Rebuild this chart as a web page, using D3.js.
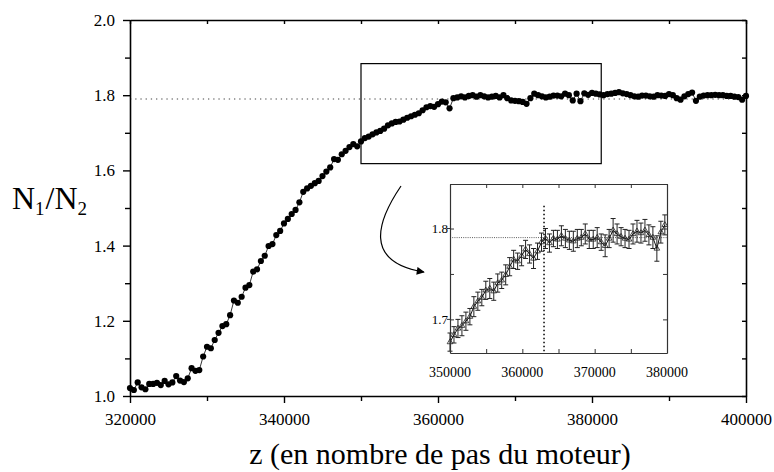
<!DOCTYPE html>
<html><head><meta charset="utf-8">
<script src="https://cdn.jsdelivr.net/npm/d3@7/dist/d3.min.js"></script>
<style>body{margin:0;background:#fff}svg{display:block}</style>
</head><body><svg id="c" width="774" height="472"></svg>
<script>
// ---- Data ----
const mainStart = 320000, mainStep = 500;
const mainValues = [
1.021,1.016,1.036,1.023,1.018,1.032,1.032,1.035,1.029,1.040,
1.031,1.036,1.053,1.041,1.037,1.047,1.074,1.067,1.069,1.105,
1.131,1.127,1.149,1.168,1.186,1.191,1.215,1.254,1.248,1.264,
1.288,1.295,1.331,1.337,1.359,1.373,1.399,1.404,1.428,1.439,
1.459,1.471,1.484,1.495,1.515,1.543,1.552,1.559,1.566,1.572,
1.585,1.597,1.608,1.630,1.628,1.643,1.652,1.662,1.670,1.664,
1.677,1.686,1.690,1.696,1.701,1.705,1.711,1.720,1.725,1.729,
1.730,1.735,1.740,1.744,1.748,1.752,1.760,1.768,1.771,1.769,
1.776,1.783,1.781,1.765,1.792,1.794,1.797,1.794,1.798,1.800,
1.796,1.800,1.797,1.794,1.796,1.798,1.794,1.800,1.792,1.786,
1.785,1.784,1.782,1.777,1.792,1.804,1.800,1.797,1.794,1.796,
1.799,1.799,1.797,1.804,1.800,1.786,1.804,1.784,1.805,1.801,
1.806,1.804,1.802,1.800,1.803,1.804,1.806,1.808,1.805,1.803,
1.800,1.797,1.796,1.799,1.799,1.797,1.796,1.800,1.799,1.798,
1.803,1.800,1.792,1.788,1.797,1.803,1.807,1.785,1.796,1.799,
1.800,1.800,1.801,1.800,1.800,1.798,1.798,1.796,1.795,1.788,
1.798];
const insetStart = 350000, insetStep = 550;
const insetValues = [
1.675,1.683,1.690,1.693,1.698,1.703,1.714,1.720,1.724,1.732,
1.734,1.731,1.740,1.743,1.749,1.758,1.766,1.764,1.770,1.777,
1.772,1.767,1.775,1.785,1.789,1.784,1.789,1.788,1.792,1.789,
1.787,1.786,1.789,1.790,1.794,1.788,1.788,1.790,1.785,1.781,
1.789,1.798,1.794,1.791,1.789,1.788,1.794,1.797,1.795,1.798,
1.793,1.790,1.778,1.796,1.804];
const insetErrors = [
0.010,0.009,0.010,0.011,0.010,0.009,0.011,0.010,0.009,0.010,
0.011,0.010,0.010,0.009,0.011,0.010,0.010,0.009,0.011,0.010,
0.010,0.011,0.009,0.010,0.011,0.010,0.009,0.010,0.011,0.010,
0.010,0.011,0.010,0.009,0.011,0.010,0.010,0.011,0.009,0.012,
0.010,0.013,0.011,0.010,0.010,0.010,0.011,0.012,0.011,0.012,
0.011,0.012,0.014,0.012,0.011];
const plateau = 1.79;
const verticalMark = 363000;
const zoomBox = {x0:350000, x1:381200, y0:1.618, y1:1.884};
const mainXTicks = [320000,340000,360000,380000,400000];
const mainYTicks = [1.0,1.2,1.4,1.6,1.8,2.0];
const insetXTicks = [350000,360000,370000,380000];
const insetYTicks = [1.7,1.8];

const FONT = '"Liberation Serif", Tinos, "Times New Roman", Times, "DejaVu Serif", "Noto Serif", serif';
const mainData = mainValues.map((v,i)=>({x:mainStart+i*mainStep,y:v}));
const insetData = insetValues.map((v,i)=>({x:insetStart+i*insetStep,y:v,e:insetErrors[i]}));

const svg = d3.select("#c").style("font-family",FONT);
// ---- Main chart ----
const x = d3.scaleLinear().domain([320000,400000]).range([130,746]);
const y = d3.scaleLinear().domain([1,2]).range([396,20]);

const minorX = d3.range(320000,400001,10000);
const minorY = d3.range(10,21).map(d=>d/10);

svg.append("line").attr("x1",x(320000)).attr("x2",x(400000)).attr("y1",y(plateau)).attr("y2",y(plateau))
  .attr("stroke","#444").attr("stroke-width",1.1).attr("stroke-dasharray","1.3,3.9");

const gB = svg.append("g").attr("transform",`translate(0,${y(1)})`)
  .call(d3.axisBottom(x).tickValues(minorX).tickSizeInner(7).tickSizeOuter(0).tickFormat(d=>mainXTicks.includes(d)?d:""));
const gL = svg.append("g").attr("transform",`translate(${x(320000)},0)`)
  .call(d3.axisLeft(y).tickValues(minorY).tickSizeInner(7).tickSizeOuter(0).tickFormat(d=>mainYTicks.some(t=>Math.abs(t-d)<1e-9)?d3.format(".1f")(d):""));
const gT = svg.append("g").attr("transform",`translate(0,${y(2)})`)
  .call(d3.axisBottom(x).tickValues(minorX).tickSizeInner(4).tickSizeOuter(0).tickFormat(""));
const gR = svg.append("g").attr("transform",`translate(${x(400000)},0)`)
  .call(d3.axisLeft(y).tickValues(minorY).tickSizeInner(4).tickSizeOuter(0).tickFormat(""));
[gB,gL,gT,gR].forEach(g=>{g.attr("font-family",FONT);g.select(".domain").attr("stroke","#000").attr("stroke-width",1.6);g.selectAll(".tick line").attr("stroke","#000").attr("stroke-width",1.4);});
gB.selectAll(".tick").filter(d=>!mainXTicks.includes(d)).select("line").attr("y2",5);
gL.selectAll(".tick").filter(d=>!mainYTicks.some(t=>Math.abs(t-d)<1e-9)).select("line").attr("x2",-5);
gB.selectAll(".tick text").attr("font-size",17).attr("dy","1.1em");
gL.selectAll(".tick text").attr("font-size",17).attr("dx","-0.3em");

svg.append("path").datum(mainData).attr("fill","none").attr("stroke","#000").attr("stroke-width",0.8)
  .attr("d",d3.line().x(d=>x(d.x)).y(d=>y(d.y)));
svg.append("g").selectAll("circle").data(mainData).join("circle")
  .attr("cx",d=>x(d.x)).attr("cy",d=>y(d.y)).attr("r",3.1).attr("fill","#000");

svg.append("rect").attr("x",x(zoomBox.x0)).attr("y",y(zoomBox.y1))
  .attr("width",x(zoomBox.x1)-x(zoomBox.x0)).attr("height",y(zoomBox.y0)-y(zoomBox.y1))
  .attr("fill","none").attr("stroke","#000").attr("stroke-width",1.2);

const defs = svg.append("defs");
defs.append("marker").attr("id","ah").attr("viewBox","0 0 10 10").attr("refX",9).attr("refY",5)
  .attr("markerWidth",12).attr("markerHeight",8).attr("markerUnits","userSpaceOnUse").attr("orient","auto")
  .append("path").attr("d","M0,0 L10,5 L0,10 z").attr("fill","#000");
svg.append("path").attr("d","M401,186 C378,220 362,262 424,272").attr("fill","none")
  .attr("stroke","#000").attr("stroke-width",1.2).attr("marker-end","url(#ah)");

svg.append("text").attr("x",440).attr("y",464).attr("text-anchor","middle").attr("font-size",30)
  .attr("font-family",FONT).text("z (en nombre de pas du moteur)");
const yl = svg.append("text").attr("x",12).attr("y",209).attr("font-size",32).attr("font-family",FONT);
yl.append("tspan").text("N");
yl.append("tspan").attr("font-size",19).attr("dy",6).text("1");
yl.append("tspan").attr("dy",-6).attr("dx",1).text("/N");
yl.append("tspan").attr("font-size",19).attr("dy",6).text("2");

// ---- Inset ----
const ix = d3.scaleLinear().domain([350000,380000]).range([450,667]);
const iy = d3.scaleLinear().domain([1.663,1.849]).range([353,184]);
const ig = svg.append("g").attr("font-family",FONT);
ig.append("rect").attr("x",450).attr("y",184).attr("width",217).attr("height",169).attr("fill","#fff");
const iMinorX = d3.range(350000,380001,5000);
const iMinorY = [1.7,1.75,1.8];
ig.append("line").attr("x1",ix(350000)).attr("x2",ix(380000)).attr("y1",iy(plateau)).attr("y2",iy(plateau))
  .attr("stroke","#333").attr("stroke-width",0.8).attr("stroke-dasharray","1,1.2");
ig.append("line").attr("x1",ix(verticalMark)).attr("x2",ix(verticalMark)).attr("y1",iy(1.825)).attr("y2",iy(1.664))
  .attr("stroke","#000").attr("stroke-width",1.5).attr("stroke-dasharray","1.5,2.5");
const eb = ig.append("g").attr("stroke","#222").attr("stroke-width",1);
insetData.forEach(d=>{
  const cx = ix(d.x);
  eb.append("line").attr("x1",cx).attr("x2",cx).attr("y1",iy(d.y-d.e)).attr("y2",iy(d.y+d.e));
  eb.append("line").attr("x1",cx-2.5).attr("x2",cx+2.5).attr("y1",iy(d.y-d.e)).attr("y2",iy(d.y-d.e));
  eb.append("line").attr("x1",cx-2.5).attr("x2",cx+2.5).attr("y1",iy(d.y+d.e)).attr("y2",iy(d.y+d.e));
});
ig.append("path").datum(insetData).attr("fill","none").attr("stroke","#111").attr("stroke-width",1)
  .attr("d",d3.line().x(d=>ix(d.x)).y(d=>iy(d.y)));
ig.append("g").selectAll("path").data(insetData).join("path")
  .attr("transform",d=>`translate(${ix(d.x)},${iy(d.y)})`)
  .attr("d",d3.symbol(d3.symbolTriangle,14)).attr("fill","none").attr("stroke","#222").attr("stroke-width",0.8);
const iB = ig.append("g").attr("transform",`translate(0,353)`)
  .call(d3.axisTop(ix).tickValues(iMinorX).tickSizeInner(4).tickSizeOuter(0).tickFormat(""));
const iT = ig.append("g").attr("transform",`translate(0,184)`)
  .call(d3.axisBottom(ix).tickValues(iMinorX).tickSizeInner(4).tickSizeOuter(0).tickFormat(""));
const iL = ig.append("g").attr("transform",`translate(450,0)`)
  .call(d3.axisRight(iy).tickValues(iMinorY).tickSizeInner(4).tickSizeOuter(0).tickFormat(""));
const iR = ig.append("g").attr("transform",`translate(667,0)`)
  .call(d3.axisLeft(iy).tickValues(iMinorY).tickSizeInner(4).tickSizeOuter(0).tickFormat(""));
[iB,iT,iL,iR].forEach(g=>{g.select(".domain").attr("stroke","#333").attr("stroke-width",1.2);g.selectAll(".tick line").attr("stroke","#333");});
ig.append("g").selectAll("text").data(insetXTicks).join("text")
  .attr("x",d=>ix(d)).attr("y",377).attr("text-anchor","middle").attr("font-size",14).attr("font-family",FONT).text(d=>d);
ig.append("g").selectAll("text").data(insetYTicks).join("text")
  .attr("x",448).attr("y",d=>iy(d)+4.5).attr("text-anchor","end").attr("font-size",13).attr("font-family",FONT).text(d=>d.toFixed(1));
ig.append("g").selectAll("line").data(insetYTicks).join("line")
  .attr("x1",447).attr("x2",450).attr("y1",d=>iy(d)).attr("y2",d=>iy(d)).attr("stroke","#333");
</script></body></html>
